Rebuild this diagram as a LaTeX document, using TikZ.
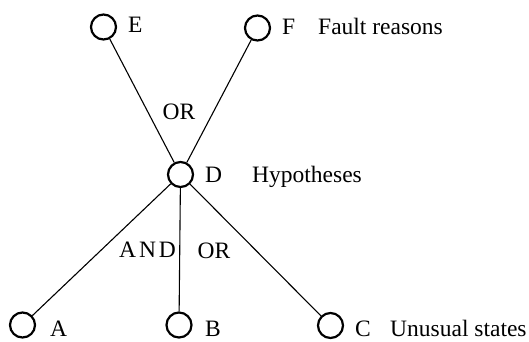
\documentclass[tikz,border=0pt]{standalone}
\usepackage{fontspec}
\setmainfont{Liberation Serif}
\usetikzlibrary{positioning}
\tikzset{
  state/.style={circle, draw, line width=2.2pt, minimum size=25pt, inner sep=0pt},
  link/.style={line width=1.1pt},
  lbl/.style={font=\fontsize{23.5}{26}\selectfont, inner sep=0pt, anchor=base west},
  gate/.style={font=\fontsize{23.5}{26}\selectfont, inner sep=0pt}
}
\begin{document}
\begin{tikzpicture}[x=1pt,y=-1pt]
  \useasboundingbox (0,0) rectangle (529,341);
  % --- States ---
  \node[state] (E) at (103.5,27) {};
  \node[state] (F) at (257.5,28) {};
  \node[state] (D) at (180.5,174.5) {};
  \node[state] (A) at (22.5,325) {};
  \node[state] (B) at (179,325) {};
  \node[state] (C) at (330.5,325.5) {};
  % --- Links ---
  \draw[link] (D) -- (E);
  \draw[link] (D) -- (F);
  \draw[link] (D) -- (A);
  \draw[link] (D) -- (B);
  \draw[link] (D) -- (C);
  % --- Labels ---
  \node[lbl] (Elbl) at (128,32) {E};
  \node[lbl] (Flbl) at (282,34) {F};
  \node[lbl] (fault) at (318,34) {Fault reasons};
  \node[lbl] (Dlbl) at (205,182) {D};
  \node[lbl] (hyp) at (252,182) {Hypotheses};
  \node[lbl] (Albl) at (50,336) {A};
  \node[lbl] (Blbl) at (205,336) {B};
  \node[lbl] (Clbl) at (355,336) {C};
  \node[lbl] (unus) at (390,336) {Unusual states};
  % --- Gates ---
  \node[gate] (orup) at (179,111.5) {OR};
  \node[gate, anchor=east, font=\fontsize{23.5}{26}\selectfont\addfontfeature{LetterSpace=12}] (and) at (176,250) {AND};
  \node[gate] (orlow) at (214,250.5) {OR};
\end{tikzpicture}
\end{document}
